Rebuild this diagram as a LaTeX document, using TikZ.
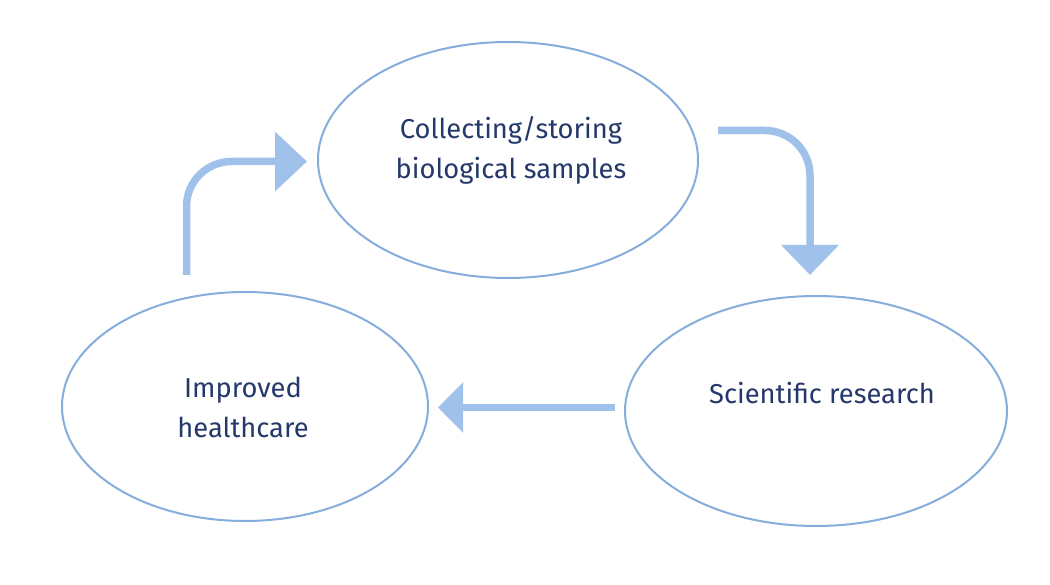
\documentclass[tikz,border=0pt]{standalone}
\usepackage{fontspec}
\setmainfont{Fira Sans}
\usetikzlibrary{shapes.geometric,arrows.meta}
\definecolor{ringblue}{HTML}{86AEDC}
\definecolor{arrowblue}{HTML}{A0C1EA}
\definecolor{navytext}{HTML}{24386A}
\tikzset{
  ring/.style={ellipse,draw=ringblue,line width=2pt,fill=white,inner sep=0pt},
  label text/.style={font=\fontsize{27.3}{40}\selectfont,text=navytext,align=center,inner sep=0pt},
  blockarrow/.style={draw=arrowblue,line width=7.5pt,rounded corners=45pt},
}
\begin{document}
\begin{tikzpicture}[x=1pt,y=-1pt]
\useasboundingbox (0,0) rectangle (1050,585);
\node[ring,minimum width=380pt,minimum height=236pt] (top) at (508,160) {};
\node[ring,minimum width=382pt,minimum height=230pt] (right) at (816,411) {};
\node[ring,minimum width=366pt,minimum height=229pt] (left) at (245,406.5) {};
\node[label text,anchor=base] (toptext) at (511,179) {Collecting/storing\\biological samples};
\node[label text,anchor=base] (righttext) at (822,403) {Scientific research};
\node[label text,anchor=base] (lefttext) at (243,437) {Improved\\healthcare};
% arrow coordinates
\coordinate (a1s) at (186.5,275);
\coordinate (a1c) at (186.5,161.5);
\coordinate (a1e) at (307,161.5);
\coordinate (a2s) at (718,130.5);
\coordinate (a2c) at (810,130.5);
\coordinate (a2e) at (810,275);
\coordinate (a3s) at (615,407.5);
\coordinate (a3e) at (438,407.5);
\draw[blockarrow,-{Triangle[length=32pt,width=58pt,color=arrowblue]}] (a1s) -- (a1c) -- (a1e);
\draw[blockarrow,-{Triangle[length=30pt,width=56pt,color=arrowblue]}] (a2s) -- (a2c) -- (a2e);
\draw[blockarrow,-{Triangle[length=25pt,width=49pt,color=arrowblue]}] (a3s) -- (a3e);
\end{tikzpicture}
\end{document}
